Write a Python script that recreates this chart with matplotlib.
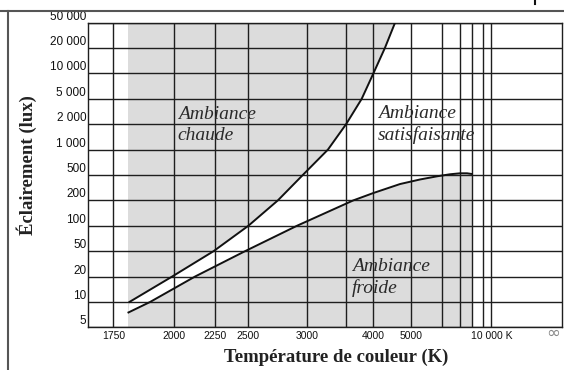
import numpy as np
import matplotlib
matplotlib.use("Agg")
import matplotlib.pyplot as plt
from matplotlib.lines import Line2D

# Illuminance levels and colour-temperature grid of the diagram
lux_levels = [5, 10, 20, 50, 100, 200, 500, 1000, 2000, 5000, 10000, 20000, 50000]
lux_labels = ["5", "10", "20", "50", "100", "200", "500", "1 000", "2 000",
              "5 000", "10 000", "20 000", "50 000"]

temp_ticks = [1750, 2000, 2250, 2500, 3000, 3500, 4000, 5000, 6000, 7000, 8000, 9000, 10000]
temp_labels = ["1750", "2000", "2250", "2500", "3000", "", "4000", "5000",
               "", "", "", "", "10 000 K"]

# Boundary of the "warm" zone
warm_temp = [1810, 1990, 2240, 2500, 2730, 2960, 3250, 3500, 3770, 4000, 4260, 4520]
warm_lux = [10, 20, 50, 100, 200, 500, 1000, 2000, 5000, 10000, 20000, 50000]

# Boundary of the "cold" zone
cold_temp = [1806, 1893, 2120, 2473, 2903, 3620, 4000, 4660, 5260, 5820, 6410, 7000, 7560, 8000]
cold_lux = [7.5, 10, 20, 50, 100, 200, 261, 361, 426, 477, 510, 524, 524, 514]

# The temperature axis is drawn on a hand-spaced reciprocal grid:
# relative position of each grid temperature along the axis
grid_temp = np.array([1665, 1750, 2000, 2250, 2500, 3000, 3500, 4000, 5000,
                      6000, 7000, 8000, 9000, 10000, np.inf])
grid_pos = np.array([0.0, 0.0528, 0.1815, 0.2675, 0.3378, 0.4610, 0.5440, 0.6016,
                     0.6812, 0.7460, 0.7847, 0.8094, 0.8339, 0.8509, 1.0])
grid_mired = 1e6 / grid_temp


def temp_forward(t):
    with np.errstate(divide="ignore", invalid="ignore"):
        m = 1e6 / np.asarray(t, dtype=float)
    return np.interp(m, grid_mired[::-1], grid_pos[::-1])


def temp_inverse(p):
    m = np.interp(np.asarray(p, dtype=float), grid_pos, grid_mired)
    with np.errstate(divide="ignore", invalid="ignore"):
        return 1e6 / m


# Illuminance axis: every level equally spaced
lux_log = np.log10(lux_levels)
lux_idx = np.arange(len(lux_levels), dtype=float)


def lux_forward(y):
    with np.errstate(divide="ignore", invalid="ignore"):
        ly = np.log10(np.asarray(y, dtype=float))
    return np.interp(ly, lux_log, lux_idx)


def lux_inverse(p):
    return 10 ** np.interp(np.asarray(p, dtype=float), lux_idx, lux_log)


fig = plt.figure(figsize=(5.64, 3.70), dpi=100)
ax = fig.add_axes([0.1566, 0.1154, 0.8399, 0.8232])

ax.set_xscale("function", functions=(temp_forward, temp_inverse))
ax.set_yscale("function", functions=(lux_forward, lux_inverse))
ax.set_xlim(1665, 1e7)
ax.set_ylim(5, 50000)

# grey background between the first and last point of the curves
ax.axvspan(cold_temp[0], cold_temp[-1], color="#dcdcdc", lw=0, zorder=0)

# white "satisfying" zone between the two boundaries
zone_t = cold_temp + [cold_temp[-1], warm_temp[-1]] + warm_temp[::-1]
zone_l = cold_lux + [lux_levels[-1], lux_levels[-1]] + warm_lux[::-1]
ax.fill(zone_t, zone_l, color="white", lw=0, zorder=0.5)

ax.set_xticks(temp_ticks)
ax.set_xticklabels(temp_labels)
ax.set_yticks(lux_levels)
ax.set_yticklabels(lux_labels, va="bottom")
ax.xaxis.set_minor_locator(plt.NullLocator())
ax.yaxis.set_minor_locator(plt.NullLocator())
ax.tick_params(length=0, labelcolor="#111111")
ax.tick_params(axis="x", pad=2.5, labelsize=7.5)
ax.tick_params(axis="y", pad=1.5, labelsize=8.5)
for lab in ax.get_xticklabels() + ax.get_yticklabels():
    lab.set_family("Liberation Sans")

ax.grid(True, color="#1e1e1e", lw=1.0, zorder=1)
ax.set_axisbelow(False)
for sp in ax.spines.values():
    sp.set_color("#1e1e1e")
    sp.set_linewidth(1.0)

ax.plot(warm_temp, warm_lux, color="#111111", lw=1.4, zorder=3)
ax.plot(cold_temp, cold_lux, color="#111111", lw=1.4, zorder=3)

zone_font = dict(family="Liberation Serif", style="italic", fontsize=14,
                 color="#2a2a2a", ha="left", va="center", linespacing=1.3,
                 transform=ax.transAxes, zorder=4)
ax.text(0.189, 0.665, "Ambiance\nchaude", **zone_font)
ax.text(0.612, 0.665, "Ambiance\nsatisfaisante", **zone_font)
ax.text(0.557, 0.165, "Ambiance\nfroide", **zone_font)

ax.text(0.981, -0.02, "\u221e", transform=ax.transAxes, ha="center", va="center",
        fontsize=12, color="#888888", family="DejaVu Sans")

label_font = dict(family="Liberation Serif", weight="bold", fontsize=13.5, color="#222222")
ax.set_xlabel("Température de couleur (K)", **label_font)
ax.set_ylabel("Éclairement (lux)", **label_font)
ax.xaxis.set_label_coords(0.523, -0.0975)
ax.xaxis.label.set_va("center")
ax.yaxis.set_label_coords(-0.129, 0.533)
ax.yaxis.label.set_va("center")

# outer frame of the figure
fig.add_artist(Line2D([0, 1], [0.969, 0.969], color="#555555", lw=1.5))
fig.add_artist(Line2D([0.0137, 0.0137], [0, 0.969], color="#555555", lw=1.5))
fig.add_artist(Line2D([0.9486, 0.9486], [0.99, 1.0], color="#111111", lw=1.5))

fig.savefig("out.png", dpi=100)
